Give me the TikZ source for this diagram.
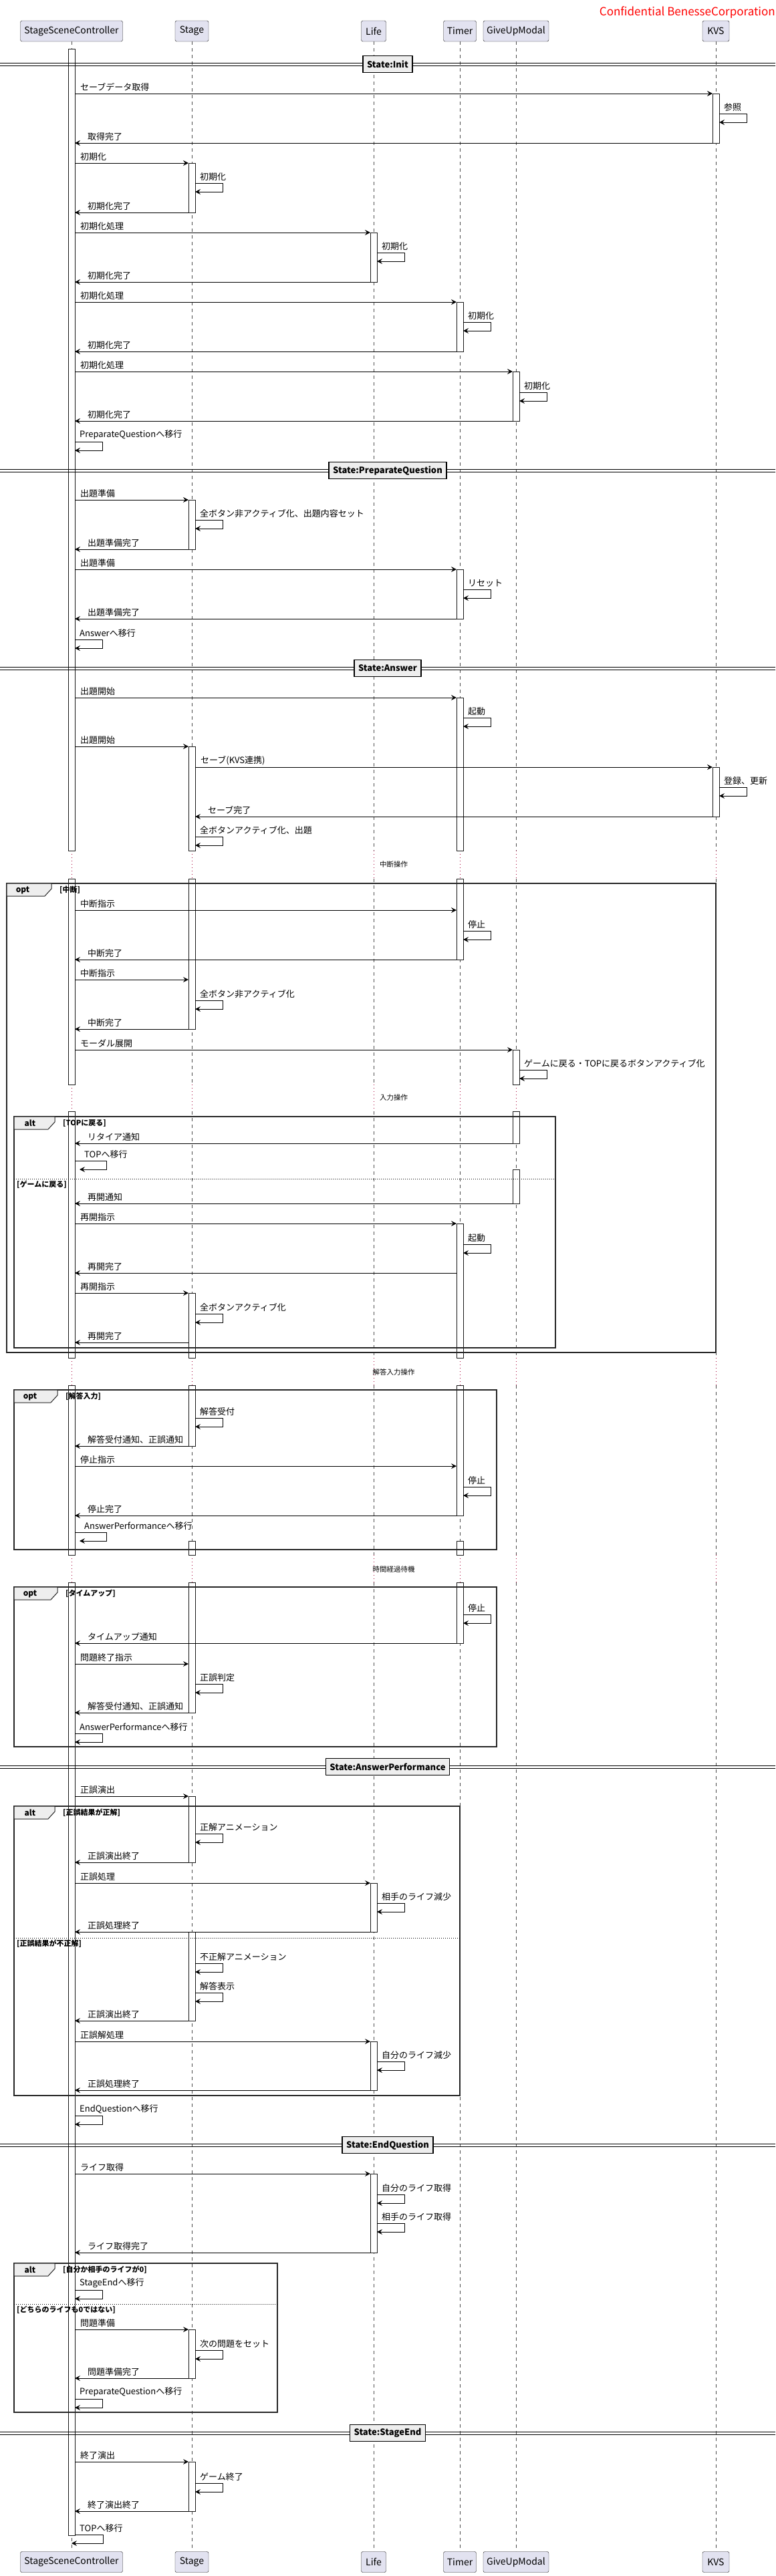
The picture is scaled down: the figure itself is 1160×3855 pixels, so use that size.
\documentclass[tikz,border=0pt]{standalone}
\usepackage{fontspec}
\setmainfont{Noto Sans CJK JP}
\usetikzlibrary{arrows.meta,calc,positioning}

\definecolor{partfill}{HTML}{E2E2F0}
\definecolor{boxgray}{HTML}{EEEEEE}
\definecolor{delayred}{HTML}{A80036}

\tikzset{
  msgline/.style={draw=black, line width=0.9pt, -{Stealth[length=8pt,width=8pt,inset=3pt]}},
  msgtext/.style={anchor=south west, inner sep=0pt, font=\fontsize{13}{15}\selectfont},
  lifeline/.style={draw=black!70, line width=0.5pt, dash pattern=on 5pt off 5pt},
  delayline/.style={draw=delayred, line width=0.8pt, dash pattern=on 1pt off 4pt},
  delaytext/.style={inner sep=0pt, font=\fontsize{10.5}{12}\selectfont},
  actbox/.style={draw=black!90, fill=white, line width=0.7pt},
  partbox/.style={draw=black!90, fill=partfill, rounded corners=2.5pt, minimum height=31pt,
    inner xsep=4pt, font=\fontsize{14}{16}\selectfont},
  statebox/.style={draw=black, line width=1.5pt, fill=boxgray, minimum height=25pt,
    inner xsep=6pt, font=\bfseries\fontsize{13}{15}\selectfont},
  stateline/.style={draw=black, line width=1pt},
  frameline/.style={draw=black!85, line width=1.4pt},
  frametab/.style={draw=black!85, line width=1pt, fill=boxgray},
  tabtext/.style={inner sep=0pt, font=\bfseries\fontsize{12}{14}\selectfont},
  guardtext/.style={anchor=west, inner sep=0pt, font=\bfseries\fontsize{11}{13}\selectfont},
  elseline/.style={draw=black, line width=0.8pt, dash pattern=on 1pt off 2pt},
  conftext/.style={anchor=east, inner sep=0pt, text=red, font=\fontsize{17}{20}\selectfont}
}

% lifeline positions
\def\xSSC{107}
\def\xStg{287}
\def\xLife{559}
\def\xTmr{688}
\def\xGUM{772}
\def\xKVS{1071}

% call to the right: from lifeline, to lifeline, y, text
\newcommand{\callmsg}[4]{%
  \coordinate (msg-s) at (#1+5,#3);
  \coordinate (msg-e) at (#2-5,#3);
  \draw[msgline] (msg-s) -- (msg-e);
  \node[msgtext] (msg-t) at ([shift={(8,-3)}]msg-s) {#4};}
% reply to the left
\newcommand{\backmsg}[4]{%
  \coordinate (msg-s) at (#1-5,#3);
  \coordinate (msg-e) at (#2+5,#3);
  \draw[msgline] (msg-s) -- (msg-e);
  \node[msgtext] (msg-t) at ([shift={(19,-3)}]msg-e) {#4};}
% self message: start x, right x, tip x, y, text
\newcommand{\selfmsg}[5]{%
  \coordinate (loop-a) at (#1,#4);
  \coordinate (loop-b) at (#2,#4+13);
  \coordinate (loop-c) at (#3,#4+13);
  \draw[msgline] (loop-a) -| (loop-b) -- (loop-c);
  \node[msgtext] (loop-t) at ({max(#1,#3)+7},#4-3) {#5};}
\newcommand{\selfon}[3]{\selfmsg{#1+5}{#1+46}{#1+5}{#2}{#3}}
\newcommand{\actbar}[3]{\draw[actbox] (#1-5,#2) rectangle (#1+5,#3);}
% state divider: y, name, text
\newcommand{\statediv}[3]{%
  \draw[stateline] (0,#1-2) -- (1160,#1-2);
  \draw[stateline] (0,#1+2) -- (1160,#1+2);
  \node[statebox] (state-#2) at (580,#1) {#3};}
% group frame: x1, y1, x2, y2, tab width, kind, guard
\newcommand{\grpframe}[7]{%
  \draw[frameline] (#1,#2) rectangle (#3,#4);
  \draw[frametab] (#1,#2) -- (#1+#5,#2) -- (#1+#5,#2+8) -- (#1+#5-10,#2+19) -- (#1,#2+19) -- cycle;
  \node[tabtext] (#6-tab) at (#1+24,#2+10) {#6};
  \node[guardtext] (#6-guard) at (#1+#5+12,#2+10) {#7};}
\newcommand{\elsediv}[4]{%
  \draw[elseline] (#1,#3) -- (#2,#3);
  \node[guardtext] (else-guard) at (#1+4,#3+9) {#4};}

\begin{document}
\begin{tikzpicture}[x=1pt,y=-1pt]
\fill[white] (0,0) rectangle (1160,3855);
\useasboundingbox (0,0) rectangle (1160,3855);

\node[conftext] (conf) at (1160,19) {Confidential BenesseCorporation};

% lifelines, dotted where time passes
\foreach \lx in {\xSSC,\xStg,\xLife,\xTmr,\xGUM,\xKVS}{
  \foreach \ya/\yb in {62/1273,1315/1623,1663/2032,2073/2327,2368/3818}
    {\draw[lifeline] (\lx,\ya) -- (\lx,\yb);}
  \foreach \ya/\yb in {1273/1315,1623/1663,2032/2073,2327/2368}
    {\draw[delayline] (\lx,\ya) -- (\lx,\yb);}
}
\node[delaytext] (wait-a) at (589,1294) {中断操作};
\node[delaytext] (wait-b) at (589,1643) {入力操作};
\node[delaytext] (wait-c) at (589,2053) {解答入力操作};
\node[delaytext] (wait-d) at (589,2348) {時間経過待機};

% activations
\foreach \ya/\yb in {73/1273,1315/1623,1663/2032,2073/2327,2368/3794}
  {\actbar{\xSSC}{\ya}{\yb}}
\foreach \ya/\yb in {244/318,748/822,1117/1273,1315/1540,1935/2032,2073/2164,
    2306/2327,2368/2563,2688/2787,2891/3024,3486/3559,3684/3758}
  {\actbar{\xStg}{\ya}{\yb}}
\foreach \ya/\yb in {348/422,2818/2891,3055/3128,3253/3371}
  {\actbar{\xLife}{\ya}{\yb}}
\foreach \ya/\yb in {452/526,852/926,1044/1273,1315/1436,1831/2032,2073/2268,
    2306/2327,2368/2459}
  {\actbar{\xTmr}{\ya}{\yb}}
\foreach \ya/\yb in {556/630,1571/1623,1663/1711,1750/1801}
  {\actbar{\xGUM}{\ya}{\yb}}
\foreach \ya/\yb in {140/214,1148/1222}
  {\actbar{\xKVS}{\ya}{\yb}}

% groups
\grpframe{10}{1322}{1071}{2024}{67}{opt}{[中断]}
\grpframe{21}{1671}{831}{2017}{61}{alt}{[TOPに戻る]}
\elsediv{21}{831}{1764}{[ゲームに戻る]}
\grpframe{21}{2080}{743}{2319}{65}{opt}{[解答入力]}
\grpframe{21}{2375}{743}{2614}{65}{opt}{[タイムアップ]}
\grpframe{21}{2703}{688}{3136}{61}{alt}{[正誤結果が正解]}
\elsediv{21}{688}{2900}{[正誤結果が不正解]}
\grpframe{21}{3387}{415}{3610}{61}{alt}{[自分か相手のライフが0]}
\elsediv{21}{415}{3448}{[どちらのライフも0ではない]}

% State:Init
\statediv{96}{init}{State:Init}
\callmsg{\xSSC}{\xKVS}{140}{セーブデータ取得}
\selfon{\xKVS}{170}{参照}
\backmsg{\xKVS}{\xSSC}{214}{取得完了}
\callmsg{\xSSC}{\xStg}{244}{初期化}
\selfon{\xStg}{274}{初期化}
\backmsg{\xStg}{\xSSC}{318}{初期化完了}
\callmsg{\xSSC}{\xLife}{348}{初期化処理}
\selfon{\xLife}{378}{初期化}
\backmsg{\xLife}{\xSSC}{422}{初期化完了}
\callmsg{\xSSC}{\xTmr}{452}{初期化処理}
\selfon{\xTmr}{482}{初期化}
\backmsg{\xTmr}{\xSSC}{526}{初期化完了}
\callmsg{\xSSC}{\xGUM}{556}{初期化処理}
\selfon{\xGUM}{587}{初期化}
\backmsg{\xGUM}{\xSSC}{630}{初期化完了}
\selfon{\xSSC}{661}{PreparateQuestionへ移行}

% State:PreparateQuestion
\statediv{704}{prep}{State:PreparateQuestion}
\callmsg{\xSSC}{\xStg}{748}{出題準備}
\selfon{\xStg}{778}{全ボタン非アクティブ化、出題内容セット}
\backmsg{\xStg}{\xSSC}{822}{出題準備完了}
\callmsg{\xSSC}{\xTmr}{852}{出題準備}
\selfon{\xTmr}{882}{リセット}
\backmsg{\xTmr}{\xSSC}{926}{出題準備完了}
\selfon{\xSSC}{957}{Answerへ移行}

% State:Answer
\statediv{1000}{answer}{State:Answer}
\callmsg{\xSSC}{\xTmr}{1044}{出題開始}
\selfon{\xTmr}{1074}{起動}
\callmsg{\xSSC}{\xStg}{1117}{出題開始}
\callmsg{\xStg}{\xKVS}{1148}{セーブ(KVS連携)}
\selfon{\xKVS}{1178}{登録、更新}
\backmsg{\xKVS}{\xStg}{1222}{セーブ完了}
\selfon{\xStg}{1252}{全ボタンアクティブ化、出題}

\callmsg{\xSSC}{\xTmr}{1362}{中断指示}
\selfon{\xTmr}{1393}{停止}
\backmsg{\xTmr}{\xSSC}{1436}{中断完了}
\callmsg{\xSSC}{\xStg}{1466}{中断指示}
\selfon{\xStg}{1497}{全ボタン非アクティブ化}
\backmsg{\xStg}{\xSSC}{1540}{中断完了}
\callmsg{\xSSC}{\xGUM}{1571}{モーダル展開}
\selfon{\xGUM}{1601}{ゲームに戻る・TOPに戻るボタンアクティブ化}

\backmsg{\xGUM}{\xSSC}{1711}{リタイア通知}
\selfmsg{\xSSC+5}{\xSSC+52}{\xSSC+12}{1737}{TOPへ移行}
\backmsg{\xGUM}{\xSSC}{1801}{再開通知}
\callmsg{\xSSC}{\xTmr}{1831}{再開指示}
\selfon{\xTmr}{1862}{起動}
\backmsg{\xTmr}{\xSSC}{1905}{再開完了}
\callmsg{\xSSC}{\xStg}{1935}{再開指示}
\selfon{\xStg}{1966}{全ボタンアクティブ化}
\backmsg{\xStg}{\xSSC}{2009}{再開完了}

\selfon{\xStg}{2122}{解答受付}
\backmsg{\xStg}{\xSSC}{2164}{解答受付通知、正誤通知}
\callmsg{\xSSC}{\xTmr}{2194}{停止指示}
\selfon{\xTmr}{2225}{停止}
\backmsg{\xTmr}{\xSSC}{2268}{停止完了}
\selfmsg{\xSSC+5}{\xSSC+52}{\xSSC+12}{2293}{AnswerPerformanceへ移行}

\selfon{\xTmr}{2416}{停止}
\backmsg{\xTmr}{\xSSC}{2459}{タイムアップ通知}
\callmsg{\xSSC}{\xStg}{2490}{問題終了指示}
\selfon{\xStg}{2520}{正誤判定}
\backmsg{\xStg}{\xSSC}{2563}{解答受付通知、正誤通知}
\selfon{\xSSC}{2594}{AnswerPerformanceへ移行}

% State:AnswerPerformance
\statediv{2644}{perf}{State:AnswerPerformance}
\callmsg{\xSSC}{\xStg}{2688}{正誤演出}
\selfon{\xStg}{2744}{正解アニメーション}
\backmsg{\xStg}{\xSSC}{2787}{正誤演出終了}
\callmsg{\xSSC}{\xLife}{2818}{正誤処理}
\selfon{\xLife}{2848}{相手のライフ減少}
\backmsg{\xLife}{\xSSC}{2891}{正誤処理終了}
\selfon{\xStg}{2938}{不正解アニメーション}
\selfon{\xStg}{2982}{解答表示}
\backmsg{\xStg}{\xSSC}{3024}{正誤演出終了}
\callmsg{\xSSC}{\xLife}{3055}{正誤解処理}
\selfon{\xLife}{3085}{自分のライフ減少}
\backmsg{\xLife}{\xSSC}{3128}{正誤処理終了}
\selfon{\xSSC}{3166}{EndQuestionへ移行}

% State:EndQuestion
\statediv{3210}{endq}{State:EndQuestion}
\callmsg{\xSSC}{\xLife}{3253}{ライフ取得}
\selfon{\xLife}{3284}{自分のライフ取得}
\selfon{\xLife}{3327}{相手のライフ取得}
\backmsg{\xLife}{\xSSC}{3371}{ライフ取得完了}
\selfon{\xSSC}{3427}{StageEndへ移行}
\callmsg{\xSSC}{\xStg}{3486}{問題準備}
\selfon{\xStg}{3517}{次の問題をセット}
\backmsg{\xStg}{\xSSC}{3559}{問題準備完了}
\selfon{\xSSC}{3590}{PreparateQuestionへ移行}

% State:StageEnd
\statediv{3641}{stageend}{State:StageEnd}
\callmsg{\xSSC}{\xStg}{3684}{終了演出}
\selfon{\xStg}{3716}{ゲーム終了}
\backmsg{\xStg}{\xSSC}{3758}{終了演出終了}
\selfmsg{\xSSC+5}{\xSSC+47}{\xSSC}{3793}{TOPへ移行}

% participants, top and bottom
\foreach \lx/\nm/\txt/\w in {\xSSC/ssc/StageSceneController/153,\xStg/stage/Stage/50,
    \xLife/life/Life/37,\xTmr/timer/Timer/49,\xGUM/giveup/GiveUpModal/98,\xKVS/kvs/KVS/40}{
  \node[partbox, minimum width=\w pt] (\nm-top) at (\lx,46.5) {\txt};
  \node[partbox, minimum width=\w pt] (\nm-bot) at (\lx,3834) {\txt};
}
\end{tikzpicture}
\end{document}
